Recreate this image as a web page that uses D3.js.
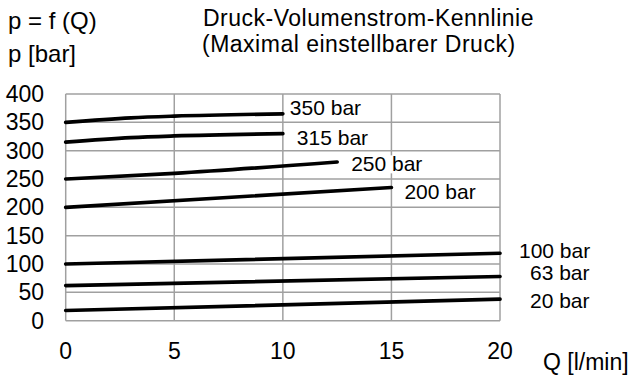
<!DOCTYPE html>
<html>
<head>
<meta charset="utf-8">
<script src="https://cdn.jsdelivr.net/npm/d3@7"></script>
<style>
  body { margin: 0; background: #fff; }
  text { font-family: "Liberation Sans", Arial, sans-serif; fill: #000; }
</style>
</head>
<body>
<svg id="chart" width="635" height="380"></svg>
<script>
// curves: Q [l/min] -> p [bar]
let seriesNames = ["350 bar", "315 bar", "250 bar", "200 bar", "100 bar", "63 bar", "20 bar"];
let flowValues = [
    [0, 3, 5, 10],
    [0, 3, 5, 10],
    [0, 5, 12.5],
    [0, 15],
    [0, 20],
    [0, 20],
    [0, 20]
];
let pressureValues = [
    [350, 358, 361, 365],
    [315, 323, 326, 330],
    [250, 260, 280],
    [200, 235],
    [100, 119],
    [62, 78],
    [18, 38]
];
let xTicks = [0, 5, 10, 15, 20];
let yTicks = [0, 50, 100, 150, 200, 250, 300, 350, 400];
let titleLines = ["Druck-Volumenstrom-Kennlinie", "(Maximal einstellbarer Druck)"];

// label offsets from the line end (layout only)
let labelOffsets = [[7, -6], [14, 4], [14, 2], [13, 4], [19, -3], [30, -4], [30, 1]];
let labelBoxExtra = {"250 bar": 30};

let svg = d3.select('#chart');
let x = d3.scaleLinear().domain([0, 20]).range([65.7, 500]);
let y = d3.scaleLinear().domain([0, 400]).range([320.7, 94]);

let gridColor = "#a0a0a0";

// grid
svg.append("g").selectAll("line").data(yTicks).enter().append("line")
    .attr("x1", x(0)).attr("x2", x(20))
    .attr("y1", d => y(d)).attr("y2", d => y(d))
    .attr("stroke", gridColor).attr("stroke-width", 1.5);
svg.append("g").selectAll("line").data(xTicks).enter().append("line")
    .attr("x1", d => x(d)).attr("x2", d => x(d))
    .attr("y1", y(0)).attr("y2", y(400))
    .attr("stroke", gridColor).attr("stroke-width", 1.5);

// tick labels
svg.append("g").selectAll("text").data(yTicks).enter().append("text")
    .attr("x", 44).attr("y", d => y(d)).attr("dy", "0.35em")
    .attr("text-anchor", "end").attr("font-size", "23px")
    .text(d => d);
svg.append("g").selectAll("text").data(xTicks).enter().append("text")
    .attr("x", d => x(d)).attr("y", 351).attr("dy", "0.35em")
    .attr("text-anchor", "middle").attr("font-size", "23px")
    .text(d => d);

// curves
let line = d3.line().curve(d3.curveMonotoneX).x(d => x(d[0])).y(d => y(d[1]));
let curves = seriesNames.map((name, i) => ({
    name: name,
    pts: flowValues[i].map((q, j) => [q, pressureValues[i][j]]),
    off: labelOffsets[i]
}));

svg.append("g").selectAll("path").data(curves).enter().append("path")
    .attr("d", d => line(d.pts))
    .attr("fill", "none").attr("stroke", "#000")
    .attr("stroke-width", 3.7).attr("stroke-linecap", "round");

// labels with white boxes
let labels = svg.append("g").selectAll("g").data(curves).enter().append("g");
labels.append("text")
    .attr("x", d => x(d.pts[d.pts.length - 1][0]) + d.off[0])
    .attr("y", d => y(d.pts[d.pts.length - 1][1]) + d.off[1])
    .attr("dy", "0.35em").attr("font-size", "21px")
    .text(d => d.name);
labels.each(function(d) {
    let t = d3.select(this).select("text");
    let b = t.node().getBBox();
    d3.select(this).insert("rect", "text")
        .attr("x", b.x - 2).attr("y", b.y + 3)
        .attr("width", b.width + 4 + (labelBoxExtra[d.name] || 0))
        .attr("height", b.height - 5)
        .attr("fill", "#fff");
});

// titles
svg.append("text").attr("x", 8).attr("y", 28.5).attr("font-size", "24px").text("p = f (Q)");
svg.append("text").attr("x", 8).attr("y", 62).attr("font-size", "24px").text("p [bar]");
svg.append("text").attr("y", 25.8).attr("font-size", "23px").attr("letter-spacing", "0.5px")
    .selectAll("tspan").data(titleLines).enter().append("tspan")
    .attr("x", (d, i) => i ? 202 : 203)
    .attr("dy", (d, i) => i ? 25.9 : 0)
    .text(d => d);
svg.append("text").attr("x", 543).attr("y", 370).attr("font-size", "23px").text("Q [l/min]");
</script>
</body>
</html>
